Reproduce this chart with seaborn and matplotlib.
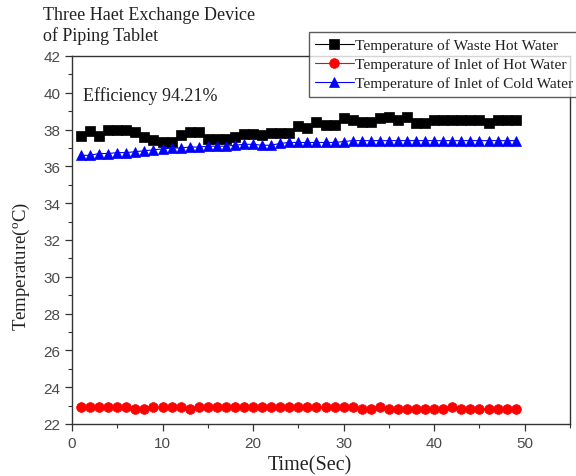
import numpy as np
import pandas as pd
import matplotlib
matplotlib.use("Agg")
import matplotlib.pyplot as plt
from matplotlib.ticker import MultipleLocator
import seaborn as sns

time_sec = list(range(1, 50))

waste_hot = [37.67, 37.9, 37.67, 38.0, 38.0, 38.0, 37.85, 37.58, 37.45, 37.3,
             37.35, 37.72, 37.85, 37.85, 37.48, 37.48, 37.5, 37.62, 37.76, 37.76,
             37.72, 37.8, 37.8, 37.8, 38.2, 38.07, 38.4, 38.27, 38.27, 38.63,
             38.5, 38.4, 38.4, 38.63, 38.67, 38.5, 38.67, 38.34, 38.34, 38.5,
             38.5, 38.5, 38.5, 38.5, 38.5, 38.34, 38.5, 38.5, 38.5]

inlet_hot = [22.9, 22.9, 22.9, 22.9, 22.9, 22.9, 22.8, 22.8, 22.9, 22.9,
             22.9, 22.9, 22.8, 22.9, 22.9, 22.9, 22.9, 22.9, 22.9, 22.9,
             22.9, 22.9, 22.9, 22.9, 22.9, 22.9, 22.9, 22.9, 22.9, 22.9,
             22.9, 22.8, 22.8, 22.9, 22.82, 22.82, 22.82, 22.82, 22.82, 22.82,
             22.82, 22.92, 22.82, 22.82, 22.82, 22.82, 22.82, 22.82, 22.82]

inlet_cold = [36.6, 36.6, 36.7, 36.7, 36.75, 36.75, 36.8, 36.85, 36.9, 36.95,
              37.0, 37.0, 37.05, 37.05, 37.1, 37.1, 37.1, 37.15, 37.2, 37.2,
              37.15, 37.15, 37.25, 37.3, 37.3, 37.3, 37.3, 37.3, 37.3, 37.35,
              37.4, 37.4, 37.4, 37.4, 37.4, 37.4, 37.4, 37.4, 37.4, 37.4,
              37.4, 37.4, 37.4, 37.4, 37.4, 37.4, 37.4, 37.4, 37.4]

labels = ["Temperature of Waste Hot Water",
          "Temperature of Inlet of Hot Water",
          "Temperature of Inlet of Cold Water"]

sns.set_theme(style="ticks")
plt.rcParams["font.family"] = ["Liberation Serif", "DejaVu Serif"]

fig = plt.figure(figsize=(5.76, 4.77), dpi=100)
ax = fig.add_axes([72/576, 1 - 425/477, (570 - 72)/576, (425 - 57)/477])

series = [(waste_hot, "black", "s", 6.5), (inlet_hot, "red", "o", 7), (inlet_cold, "blue", "^", 7)]
for (vals, col, mk, ms), lab in zip(series, labels):
    df = pd.DataFrame({"Time": time_sec, "Temp": vals})
    sns.lineplot(data=df, x="Time", y="Temp", ax=ax, color=col, marker=mk,
                 markersize=ms, markeredgecolor=col, markeredgewidth=0.5,
                 linewidth=0.8, label=lab, legend=False)

ax.set_xlim(0, 55)
ax.set_ylim(22, 42)
ax.xaxis.set_major_locator(MultipleLocator(10))
ax.xaxis.set_minor_locator(MultipleLocator(5))
ax.yaxis.set_major_locator(MultipleLocator(2))
ax.yaxis.set_minor_locator(MultipleLocator(1))
ax.tick_params(which="major", direction="out", length=5, width=0.9,
               color="#333333", labelsize=11, labelcolor="#4a4a4a")
ax.tick_params(which="minor", direction="out", length=3, width=0.8, color="#333333")
for lbl in ax.get_xticklabels() + ax.get_yticklabels():
    lbl.set_fontfamily("Liberation Sans")
for sp in ax.spines.values():
    sp.set_visible(True)
    sp.set_color("#333333")
    sp.set_linewidth(1.0)

ax.set_xlabel("Time(Sec)", fontsize=14.5, color="#222222")
ax.set_ylabel(r"Temperature($\mathregular{^{o}}$C)", fontsize=13.5, color="#222222")
ax.xaxis.set_label_coords(0.478, -0.085)
ax.yaxis.set_label_coords(-0.08, 0.43)

fig.text(83/576, 1 - 87/477, "Efficiency 94.21%",
         fontsize=13, color="#222222", va="top", ha="left")
fig.text(43/576, 1 - 7/477, "Three Haet Exchange Device\nof Piping Tablet",
         fontsize=13, color="#222222", va="top", ha="left", linespacing=1.25)

handles, lbls = ax.get_legend_handles_labels()
leg = fig.legend(handles, lbls, loc="upper left", bbox_to_anchor=(309/576, 1 - 33/477),
                 frameon=True, fancybox=False, fontsize=11.1, handlelength=2.5,
                 handletextpad=0.1, labelspacing=0.35, borderpad=0.4,
                 borderaxespad=0)
leg.get_frame().set_edgecolor("#333333")
leg.get_frame().set_linewidth(1.0)
for t in leg.get_texts():
    t.set_color("#222222")

fig.savefig("out.png", dpi=100)
